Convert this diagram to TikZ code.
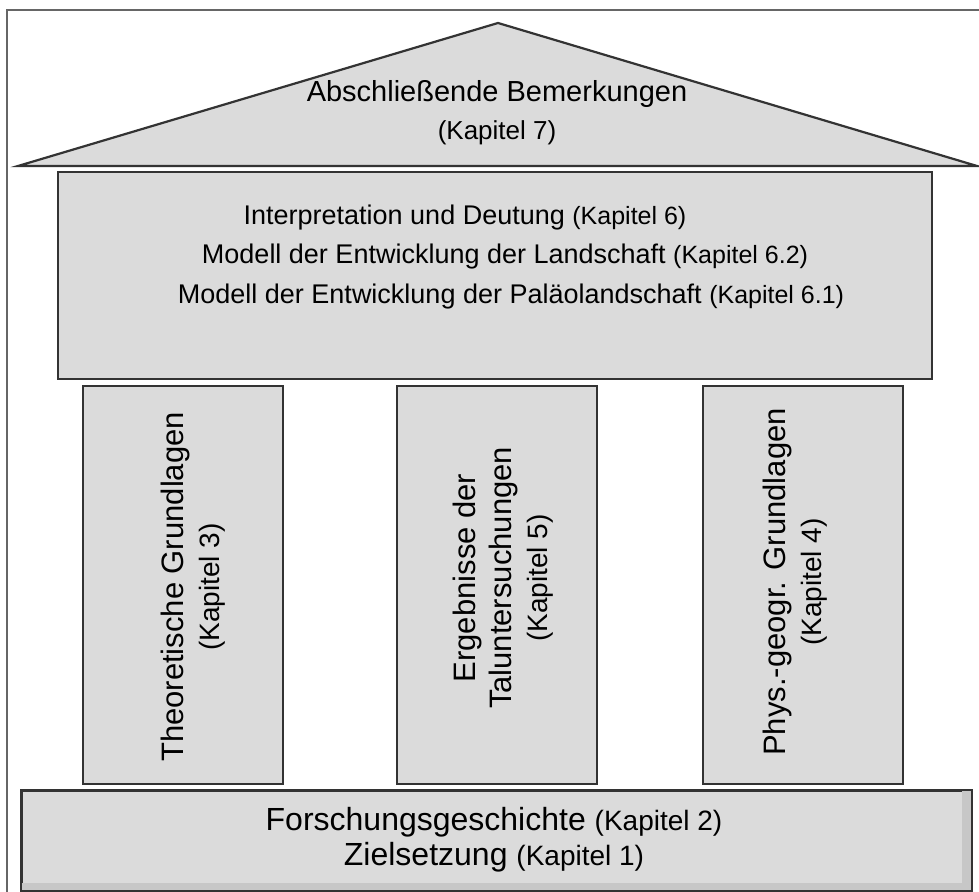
\documentclass[tikz,border=0pt]{standalone}
\usepackage{fontspec}
\setmainfont{Liberation Sans}
\newcommand{\kap}[2][13]{{\fontsize{#1}{14}\selectfont #2}}
\begin{document}
\begin{tikzpicture}[
            x=0.5pt,
            y=-0.5pt,
            block/.style={draw=black!80,line width=1pt,fill=black!14,inner sep=0pt},
            pillar/.style={block,minimum width=100pt,minimum height=199pt},
            frame/.style={draw=black!60,line width=0.8pt},
            txt/.style={draw=none,align=center,inner sep=0pt,font=\fontsize{14.5}{19}\selectfont},
            subtxt/.style={draw=none,inner sep=0pt,font=\fontsize{13.5}{16}\selectfont},
            ptxt/.style={txt,rotate=90,font=\fontsize{15.5}{18}\selectfont}
        ]
            \useasboundingbox (0,0) rectangle (979,892);
            \fill[white] (0,0) rectangle (979,892);

            % frame round the picture
            \coordinate (f0) at (7,892);
            \coordinate (f1) at (7,10);
            \coordinate (f2) at (979,10);
            \draw[frame] (f0) -- (f1) -- (f2);

            % roof
            \coordinate (roofL) at (18,166);
            \coordinate (roofT) at (498,23);
            \coordinate (roofR) at (977,166);
            \draw[block,line width=1.1pt,line join=miter] (roofL) -- (roofT) -- (roofR) -- cycle;
            \node[txt] (roof) at (497,113) {Abschließende Bemerkungen\\\kap{(Kapitel 7)}};

            % top box
            \node[block,minimum width=437pt,minimum height=103.5pt] (top) at (495,275.5) {};
            \node[subtxt] (t1) at (465,218) {Interpretation und Deutung \kap[12.5]{(Kapitel 6)}};
            \node[subtxt] (t2) at (505,257) {Modell der Entwicklung der Landschaft \kap[12.5]{(Kapitel 6.2)}};
            \node[subtxt] (t3) at (511,297) {Modell der Entwicklung der Paläolandschaft \kap[12.5]{(Kapitel 6.1)}};

            % pillars
            \foreach \i/\x in {3/182.5,5/496.5,4/803} {
                \node[pillar] (p\i) at (\x,585) {};
            }
            \node[ptxt] (l3) at (193,587) {Theoretische Grundlagen\\\kap[14]{(Kapitel 3)}};
            \node[ptxt] (l5) at (503,578) {Ergebnisse der\\Taluntersuchungen\\\kap[14]{(Kapitel 5)}};
            \node[ptxt] (l4) at (795,582) {Phys.-geogr. Grundlagen\\\kap[14]{(Kapitel 4)}};

            % foundation
            \node[block,minimum width=474.5pt,minimum height=49.5pt] (base) at (496.5,840.5) {};
            \fill[black!22] ([xshift=-5pt,yshift=1pt]base.south east) rectangle ([xshift=-0.5pt,yshift=-0.5pt]base.north east);
            \fill[black!22] ([xshift=0.5pt,yshift=0.5pt]base.south west) rectangle ([xshift=-0.5pt,yshift=4pt]base.south east);
            \draw[block,fill=none] (base.south west) rectangle (base.north east);
            \node[txt,font=\fontsize{16}{17.5}\selectfont] (b1) at (494,840) {Forschungsgeschichte \kap[14]{(Kapitel 2)}\\Zielsetzung \kap[14]{(Kapitel 1)}};
        \end{tikzpicture}
\end{document}
